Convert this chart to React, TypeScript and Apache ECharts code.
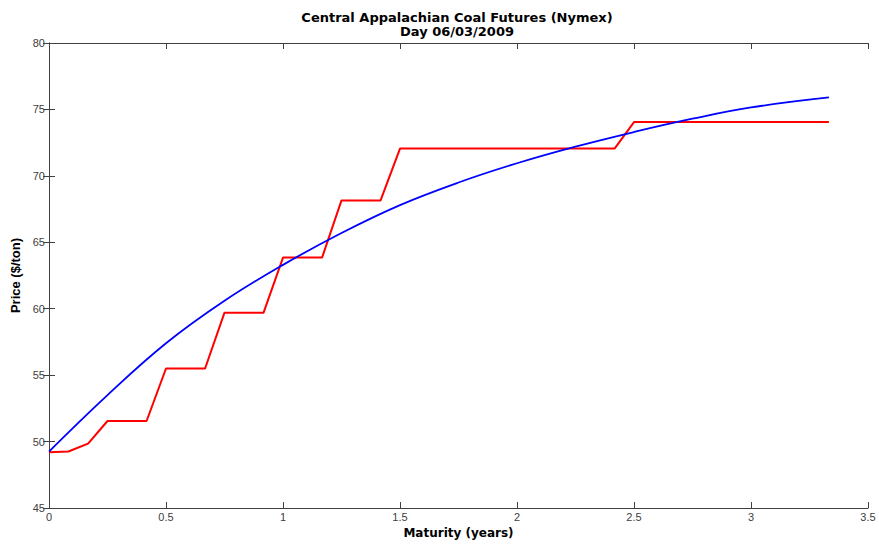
import React, { useEffect, useRef } from "react";
import * as echarts from "echarts";

const titleLines = ["Central Appalachian Coal Futures (Nymex)", "Day 06/03/2009"];
const xAxisName = "Maturity (years)";
const yAxisName = "Price ($/ton)";

// Red: futures prices (piecewise)
const futuresMaturity = [0, 0.083, 0.167, 0.25, 0.417, 0.5, 0.667, 0.75, 0.917, 1.0, 1.167, 1.25, 1.417, 1.5, 2.417, 2.5, 3.333];
const futuresPrice = [49.2, 49.25, 49.85, 51.55, 51.55, 55.5, 55.5, 59.7, 59.7, 63.85, 63.85, 68.15, 68.15, 72.05, 72.05, 74.05, 74.05];

// Blue: fitted curve
const curveMaturity = [0, 0.25, 0.5, 0.75, 1.0, 1.25, 1.5, 1.75, 2.0, 2.25, 2.5, 2.75, 3.0, 3.333];
const curvePrice = [49.25, 53.5, 57.4, 60.6, 63.3, 65.7, 67.8, 69.5, 70.95, 72.2, 73.3, 74.3, 75.15, 75.9];

const xMin = 0, xMax = 3.5, xStep = 0.5;
const yMin = 45, yMax = 80, yStep = 5;

export default function App() {
  const ref = useRef<HTMLDivElement>(null);
  useEffect(() => {
    if (!ref.current) return;
    const chart = echarts.init(ref.current, null, { renderer: "svg" });
    const axisLine = { show: true, lineStyle: { color: "#404040", width: 1 } };
    const tick = { show: true, inside: true, length: 6, lineStyle: { color: "#404040", width: 1 } };
    const label = { color: "#404040", fontFamily: "Liberation Sans, Arial, sans-serif", fontSize: 11 };
    const xNameStyle = { color: "#000", fontFamily: "DejaVu Sans, sans-serif", fontSize: 12, fontWeight: "bold" as const };
    const yNameStyle = { color: "#000", fontFamily: "Liberation Sans, Arial, sans-serif", fontSize: 13, fontWeight: "bold" as const };
    chart.setOption({
      animation: false,
      backgroundColor: "#ffffff",
      grid: { left: 49, top: 43, width: 819, height: 465, containLabel: false },
      graphic: titleLines.map((t, i) => ({
        type: "text",
        x: 457,
        y: 17.5 + i * 14,
        style: {
          text: t,
          textAlign: "center",
          textVerticalAlign: "middle",
          fill: "#000",
          font: "bold 13px 'DejaVu Sans', sans-serif",
        },
      })),
      xAxis: [
        {
          type: "value", min: xMin, max: xMax, interval: xStep, position: "bottom",
          name: xAxisName, nameLocation: "middle", nameGap: 13, nameTextStyle: xNameStyle,
          axisLine, axisTick: tick, axisLabel: { ...label, margin: 3 }, splitLine: { show: false },
        },
        {
          type: "value", min: xMin, max: xMax, interval: xStep, position: "top",
          axisLine, axisTick: tick, axisLabel: { show: false }, splitLine: { show: false },
        },
      ],
      yAxis: [
        {
          type: "value", min: yMin, max: yMax, interval: yStep, position: "left",
          name: yAxisName, nameLocation: "middle", nameGap: 22, nameTextStyle: yNameStyle,
          axisLine, axisTick: tick, axisLabel: { ...label, margin: 4 }, splitLine: { show: false },
        },
        {
          type: "value", min: yMin, max: yMax, interval: yStep, position: "right",
          axisLine, axisTick: tick, axisLabel: { show: false }, splitLine: { show: false },
        },
      ],
      series: [
        {
          type: "line",
          data: futuresMaturity.map((x, i) => [x, futuresPrice[i]]),
          showSymbol: false,
          symbol: "none",
          lineStyle: { color: "#ff0000", width: 2 },
          itemStyle: { color: "#ff0000" },
        },
        {
          type: "line",
          data: curveMaturity.map((x, i) => [x, curvePrice[i]]),
          smooth: 0.4,
          showSymbol: false,
          symbol: "none",
          lineStyle: { color: "#0000ff", width: 1.8 },
          itemStyle: { color: "#0000ff" },
        },
      ],
    });
    return () => chart.dispose();
  }, []);
  return (
    <div
      ref={ref}
      style={{ position: "absolute", left: 0, top: 0, width: 879, height: 544, background: "#fff" }}
    />
  );
}
